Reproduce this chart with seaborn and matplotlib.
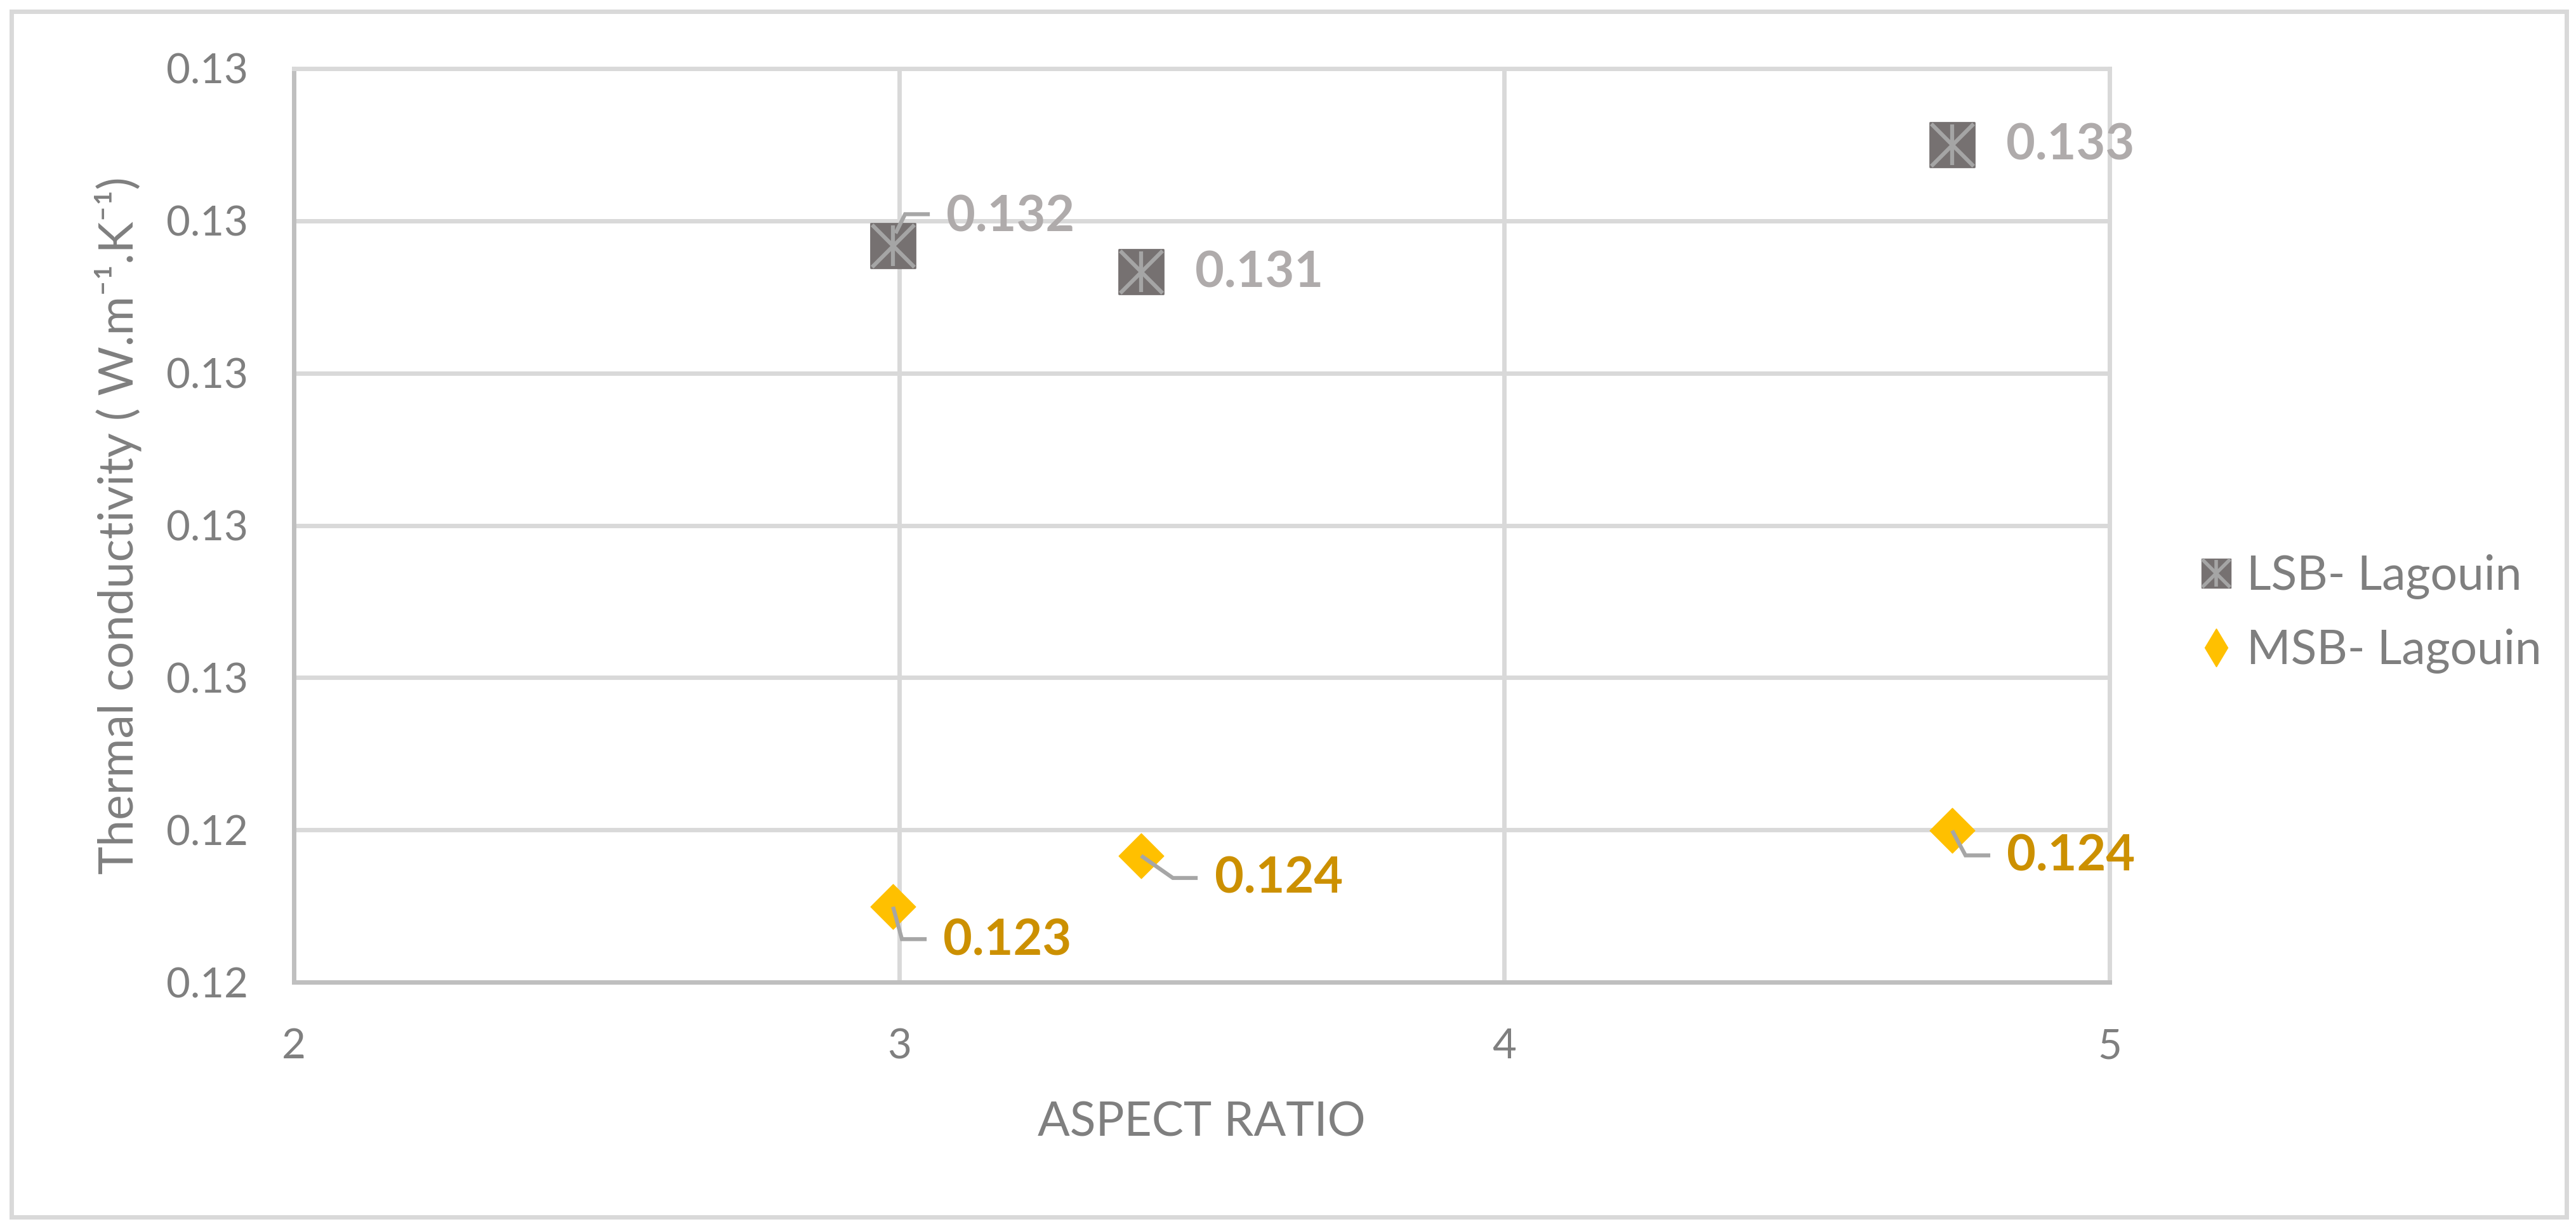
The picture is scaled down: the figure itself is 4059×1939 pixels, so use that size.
import numpy as np
import pandas as pd
import matplotlib
matplotlib.use("Agg")
import matplotlib.pyplot as plt
import seaborn as sns
from matplotlib.lines import Line2D
from matplotlib.patches import Rectangle
from matplotlib.legend_handler import HandlerTuple
from matplotlib.transforms import IdentityTransform

# ---------------- data ----------------
series_names = ["LSB- Lagouin", "MSB- Lagouin"]
lsb_aspect = [2.99, 3.40, 4.74]
lsb_k = [0.13167, 0.13133, 0.13300]
lsb_labels = ["0.132", "0.131", "0.133"]
msb_aspect = [2.99, 3.40, 4.74]
msb_k = [0.12299, 0.12366, 0.12399]
msb_labels = ["0.123", "0.124", "0.124"]
x_ticks = [2, 3, 4, 5]
y_ticks = [0.122, 0.124, 0.126, 0.128, 0.130, 0.132, 0.134]
y_tick_labels = ["0.12", "0.12", "0.13", "0.13", "0.13", "0.13", "0.13"]
x_label = "ASPECT RATIO"
y_label = "Thermal conductivity ( W.m\u207b\u00b9.K\u207b\u00b9)"

# ---------------- style ----------------
sns.set_theme(style="white")
plt.rcParams["font.family"] = ["Lato", "DejaVu Sans"]

W, H = 4059, 1939
DPI = 100
fig = plt.figure(figsize=(W / DPI, H / DPI), dpi=DPI)
fig.patch.set_facecolor("white")

ax_l, ax_r, ax_t, ax_b = 463, 3324, 108, 1547
ax = fig.add_axes([ax_l / W, (H - ax_b) / H, (ax_r - ax_l) / W, (ax_b - ax_t) / H])

GRID = "#D9D9D9"
TXT = "#7F7F7F"
LSB_FILL = "#767171"
LSB_STAR = "#A5A5A5"
MSB_FILL = "#FFC000"
LSB_LBL = "#AFABAB"
MSB_LBL = "#CC9000"
LEADER = "#A6A6A6"

lsb_df = pd.DataFrame({"aspect": lsb_aspect, "k": lsb_k})
msb_df = pd.DataFrame({"aspect": msb_aspect, "k": msb_k})

# LSB: square with asterisk overlay
sns.scatterplot(data=lsb_df, x="aspect", y="k", marker="s", s=50 ** 2,
                color=LSB_FILL, edgecolor=LSB_FILL, linewidth=2, ax=ax,
                zorder=4, legend=False)
sns.scatterplot(data=lsb_df, x="aspect", y="k", marker="x", s=48 ** 2,
                color=LSB_STAR, linewidth=4.5, ax=ax, zorder=5, legend=False)
sns.scatterplot(data=lsb_df, x="aspect", y="k", marker="|", s=46 ** 2,
                color=LSB_STAR, linewidth=4.5, ax=ax, zorder=5, legend=False)
# MSB: diamond
sns.scatterplot(data=msb_df, x="aspect", y="k", marker="D", s=36 ** 2,
                color=MSB_FILL, edgecolor=MSB_FILL, linewidth=1, ax=ax,
                zorder=4, legend=False)

ax.set_xlim(2, 5)
ax.set_ylim(0.122, 0.134)
ax.set_xticks(x_ticks)
ax.set_xticklabels([str(v) for v in x_ticks])
ax.set_yticks(y_ticks)
ax.set_yticklabels(y_tick_labels)

ax.grid(True, color=GRID, linewidth=5, zorder=0)
ax.set_axisbelow(True)
for side in ["top", "right"]:
    ax.spines[side].set_color(GRID)
    ax.spines[side].set_linewidth(5)
for side in ["left", "bottom"]:
    ax.spines[side].set_color("#BFBFBF")
    ax.spines[side].set_linewidth(5)
ax.tick_params(axis="both", length=0, labelsize=47, labelcolor=TXT)
ax.tick_params(axis="y", pad=52)
ax.tick_params(axis="x", pad=52)

ax.set_xlabel(x_label, fontsize=54, color=TXT, va="center")
ax.xaxis.set_label_coords(0.5, (ax_b - 1768) / (ax_b - ax_t))
ax.set_ylabel(y_label, fontsize=54, color=TXT, va="center", ha="center")
ax.yaxis.set_label_coords((186 - ax_l) / (ax_r - ax_l), 0.5)

# ---------------- data labels with leader lines ----------------
fig.canvas.draw()
to_px = ax.transData.transform

def label(x, y, text, color, dx, dy, leader=None):
    px, py = to_px((x, y))
    if leader is not None:
        xs = [px + p[0] for p in leader]
        ys = [py - p[1] for p in leader]
        fig.add_artist(Line2D(xs, ys, transform=IdentityTransform(),
                              color=LEADER, linewidth=4.5, zorder=6,
                              solid_capstyle="butt", solid_joinstyle="miter"))
    ax.annotate(text, xy=(x, y), xytext=(dx, -dy), textcoords="offset pixels",
                ha="left", va="center", fontsize=57, fontweight="bold",
                color=color, zorder=7)

label(lsb_aspect[0], lsb_k[0], lsb_labels[0], LSB_LBL, 84, -45,
      leader=[(4, -20), (19, -50), (58, -50)])
label(lsb_aspect[1], lsb_k[1], lsb_labels[1], LSB_LBL, 85, 2)
label(lsb_aspect[2], lsb_k[2], lsb_labels[2], LSB_LBL, 85, 2)
label(msb_aspect[0], msb_k[0], msb_labels[0], MSB_LBL, 79, 54,
      leader=[(0, 0), (14, 51), (53, 51)])
label(msb_aspect[1], msb_k[1], msb_labels[1], MSB_LBL, 116, 37,
      leader=[(0, 0), (50, 35), (89, 35)])
label(msb_aspect[2], msb_k[2], msb_labels[2], MSB_LBL, 86, 41,
      leader=[(0, 0), (21, 39), (60, 39)])

# ---------------- legend ----------------
lsb_handle = (
    Line2D([], [], marker="s", ms=33, color=LSB_FILL, ls=""),
    Line2D([], [], marker="x", ms=31, mew=4, color=LSB_STAR, ls=""),
    Line2D([], [], marker="|", ms=30, mew=4, color=LSB_STAR, ls=""),
)
msb_handle = Line2D([], [], marker="d", ms=31, color=MSB_FILL, ls="")
fs_leg = 54
fpx = fs_leg * DPI / 72
hl = 0.6
left = 3492 - hl * fpx / 2
leg = fig.legend([lsb_handle, msb_handle], series_names,
                 handler_map={tuple: HandlerTuple(ndivide=1, pad=0)},
                 loc="center left", bbox_to_anchor=(left / W, (H - 967) / H),
                 frameon=False, fontsize=fs_leg, labelcolor=TXT,
                 handlelength=hl, handletextpad=(3540 - 3492 - hl * fpx / 2) / fpx,
                 labelspacing=0.62, borderpad=0, borderaxespad=0)

# ---------------- outer frame ----------------
fig.add_artist(Rectangle((18, 22), 4044 - 18, H - 22 - 18, transform=IdentityTransform(),
                         fill=False, edgecolor=GRID, linewidth=5, zorder=0))

fig.savefig("out.png", dpi=DPI, facecolor="white")
